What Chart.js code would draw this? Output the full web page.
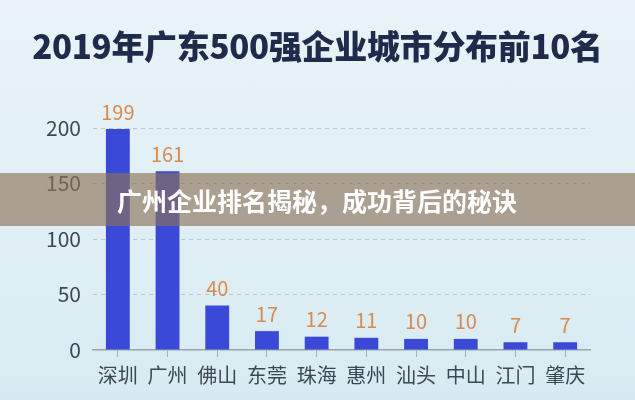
<!DOCTYPE html>
<html>
<head>
<meta charset="utf-8">
<script src="https://cdn.jsdelivr.net/npm/chart.js@4.4.0/dist/chart.umd.min.js"></script>
<style>
  html, body { margin: 0; padding: 0; }
  body {
    width: 635px; height: 400px; overflow: hidden; position: relative;
    background: linear-gradient(#e9f3f8, #deeef5 70%, #d6ebf1);
    font-family: "Noto Sans CJK SC", "Noto Sans", sans-serif;
  }
  #wrap { position: absolute; left: 0; top: 0; width: 635px; height: 400px; }
  #title {
    position: absolute; left: 0; top: 21px; width: 635px; text-align: center;
    font-size: 33px; font-weight: 900; color: #1f2b4b; letter-spacing: -0.3px;
  }
  #banner {
    position: absolute; left: 0; top: 173px; width: 635px; height: 53px;
    background: rgba(140, 114, 86, 0.64);
  }
  #banner span {
    position: absolute; left: 117px; top: 9px;
    font-size: 25px; font-weight: 700; color: #ffffff;
  }
</style>
</head>
<body>
<div id="wrap"><canvas id="barChart" width="635" height="400"></canvas></div>
<div id="title">2019年广东500强企业城市分布前10名</div>
<div id="banner"><span>广州企业排名揭秘，成功背后的秘诀</span></div>
<script>
    var cities = ["深圳", "广州", "佛山", "东莞", "珠海", "惠州", "汕头", "中山", "江门", "肇庆"];
    var companyCounts = [199, 161, 40, 17, 12, 11, 10, 10, 7, 7];
    var yTicks = [0, 50, 100, 150, 200];

    // numbers above bars
    var valueLabels = {
        id: 'valueLabels',
        afterDatasetsDraw: function (chart) {
            var ctx = chart.ctx;
            var meta = chart.getDatasetMeta(0);
            ctx.save();
            ctx.font = '20px "Noto Sans CJK SC", sans-serif';
            ctx.fillStyle = '#d98a50';
            ctx.textAlign = 'center';
            ctx.textBaseline = 'bottom';
            meta.data.forEach(function (bar, i) {
                ctx.fillText(String(companyCounts[i]), bar.x, bar.y - 7);
            });
            ctx.restore();
        }
    };

    var ctx = document.getElementById("barChart").getContext("2d");
    new Chart(ctx, {
        type: 'bar',
        data: {
            labels: cities,
            datasets: [{
                data: companyCounts,
                backgroundColor: '#3a49d8',
                borderWidth: 0,
                categoryPercentage: 1,
                barPercentage: 0.48
            }]
        },
        options: {
            responsive: false,
            animation: false,
            layout: { padding: { top: 128, right: 45, left: 0, bottom: 0 } },
            plugins: { legend: { display: false }, tooltip: { enabled: false } },
            scales: {
                x: {
                    grid: { drawOnChartArea: false, tickLength: 7, color: '#a3aeb5', offset: false },
                    border: { display: true, color: '#9aa6ae', width: 1.5 },
                    ticks: {
                        color: '#3d4852', padding: 6,
                        font: { size: 20, family: '"Noto Sans CJK SC", sans-serif' }
                    },
                    afterFit: function (scale) { scale.height = 50; }
                },
                y: {
                    min: 0, max: 200,
                    afterBuildTicks: function (scale) {
                        scale.ticks = yTicks.map(function (v) { return { value: v }; });
                    },
                    grid: {
                        drawTicks: false,
                        color: function (c) { return c.tick.value === 0 ? 'rgba(0,0,0,0)' : '#b9c6ce'; }
                    },
                    border: { display: false, dash: [4, 4] },
                    ticks: {
                        color: '#3d4852', padding: 12,
                        font: { size: 21, family: '"Noto Sans CJK SC", sans-serif' }
                    },
                    afterFit: function (scale) { scale.width = 93; }
                }
            }
        },
        plugins: [valueLabels]
    });
</script>
</body>
</html>
